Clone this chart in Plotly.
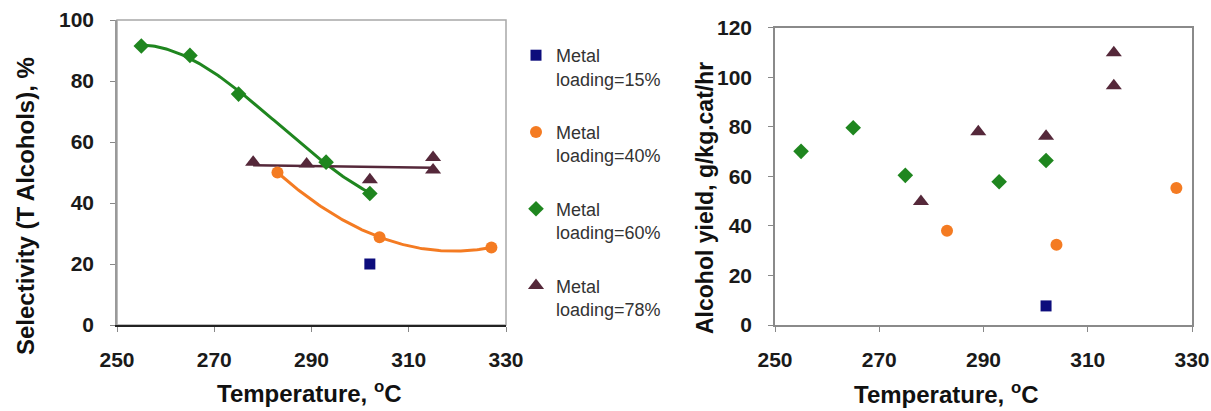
import numpy as np
import plotly.graph_objects as go

# ---- data ----
temp_15 = [302]
sel_15 = [20]
yield_15 = [7.7]

temp_40 = [283, 304, 327]
sel_40 = [50.0, 28.8, 25.4]
yield_40 = [38.0, 32.4, 55.3]

temp_60 = [255, 265, 275, 293, 302]
sel_60 = [91.5, 88.4, 75.7, 53.4, 43.1]
yield_60 = [70.1, 79.6, 60.4, 57.8, 66.4]

temp_78 = [278, 289, 302, 315, 315]
sel_78 = [53.4, 52.8, 47.6, 54.9, 50.8]
yield_78 = [49.8, 78.0, 76.2, 109.9, 96.6]

labels = ["Metal<br>loading=15%", "Metal<br>loading=40%",
          "Metal<br>loading=60%", "Metal<br>loading=78%"]

FONT = "Liberation Sans, Arial, sans-serif"
C_BLUE = "#0c0c7c"
C_ORANGE = "#f47b22"
C_GREEN = "#1f861f"
C_PURPLE = "#55283a"

W, H = 1211, 411


def px_x(p):
    return p / W


def px_y(p):
    return 1 - p / H


fig = go.Figure()

# ---- trendlines (Excel style polynomial fits of the selectivity data) ----
def trend(xs, ys, deg):
    c = np.polyfit(xs, ys, deg)
    xx = np.linspace(min(xs), max(xs), 120)
    return xx, np.polyval(c, xx)

for xs, ys, deg, col, w in [(temp_60, sel_60, 3, C_GREEN, 3),
                            (temp_40, sel_40, 2, C_ORANGE, 3),
                            (temp_78, sel_78, 1, C_PURPLE, 2.5)]:
    xx, yy = trend(xs, ys, deg)
    fig.add_trace(go.Scatter(x=xx, y=yy, mode="lines", line=dict(color=col, width=w),
                             showlegend=False, hoverinfo="skip", xaxis="x", yaxis="y"))

series = [
    (temp_15, sel_15, yield_15, "square", C_BLUE, 11),
    (temp_40, sel_40, yield_40, "circle", C_ORANGE, 12),
    (temp_60, sel_60, yield_60, "diamond", C_GREEN, 12),
    (temp_78, sel_78, yield_78, "triangle-up", C_PURPLE, 14),
]

for i, (t, s, yv, sym, col, sz) in enumerate(series):
    fig.add_trace(go.Scatter(x=t, y=s, mode="markers", name=labels[i],
                             legendgroup=f"g{i}",
                             marker=dict(symbol=sym, color=col, size=sz),
                             xaxis="x", yaxis="y"))
    fig.add_trace(go.Scatter(x=t, y=yv, mode="markers", name=labels[i],
                             legendgroup=f"g{i}", showlegend=False,
                             marker=dict(symbol=sym, color=col, size=sz),
                             xaxis="x2", yaxis="y2"))

tickfont = dict(family=FONT, size=21, color="#1a1a1a", weight="bold")
axis_common = dict(ticks="outside", ticklen=5, tickcolor="#888888", showgrid=False,
                   zeroline=False, tickfont=tickfont, showline=True, automargin=False)

fig.update_layout(
    template="none",
    width=W, height=H,
    margin=dict(l=0, r=0, t=0, b=0, pad=0),
    paper_bgcolor="white", plot_bgcolor="white",
    font=dict(family=FONT),
    xaxis=dict(domain=[px_x(117), px_x(506)], range=[250, 330], dtick=20, tick0=250,
               anchor="y", linecolor="#222222", linewidth=1.5, ticklabelstandoff=10,
               **axis_common),
    yaxis=dict(domain=[px_y(325), px_y(20)], range=[0, 100], dtick=20,
               anchor="x", linecolor="#9a9a9a", linewidth=1.5, ticklabelstandoff=12,
               **axis_common),
    xaxis2=dict(domain=[px_x(775), px_x(1192)], range=[250, 330], dtick=20, tick0=250,
                anchor="y2", linecolor="#8a8a8a", linewidth=1.5, mirror=True,
                ticklabelstandoff=10, **axis_common),
    yaxis2=dict(domain=[px_y(325), px_y(27.7)], range=[0, 120], dtick=20,
                anchor="x2", linecolor="#8a8a8a", linewidth=1.5, mirror=True,
                ticklabelstandoff=12, **axis_common),
    legend=dict(x=px_x(516), y=px_y(37), xanchor="left", yanchor="top",
                font=dict(family=FONT, size=18, color="#333333"),
                tracegroupgap=27, valign="top", bgcolor="rgba(0,0,0,0)",
                itemwidth=30),
    showlegend=True,
)

# gray plot-area border of the left chart (top and right edges)
fig.add_shape(type="rect", xref="x domain", yref="y domain", x0=0, x1=1, y0=0, y1=1,
              line=dict(color="#a8a8a8", width=1.5), layer="below")

title_font = dict(family=FONT, size=24, color="#111111")
fig.add_annotation(text="<b>Selectivity (T Alcohols), %</b>", x=px_x(25), y=px_y(206),
                   xref="paper", yref="paper", showarrow=False, textangle=-90,
                   font=title_font, xanchor="center", yanchor="middle")
fig.add_annotation(text="<b>Alcohol yield, g/kg.cat/hr</b>", x=px_x(705), y=px_y(198),
                   xref="paper", yref="paper", showarrow=False, textangle=-90,
                   font=dict(family=FONT, size=23, color="#111111"),
                   xanchor="center", yanchor="middle")
fig.add_annotation(text="<b>Temperature, <sup>o</sup>C</b>", x=px_x(310), y=px_y(392),
                   xref="paper", yref="paper", showarrow=False,
                   font=title_font, xanchor="center", yanchor="middle")
fig.add_annotation(text="<b>Temperature, <sup>o</sup>C</b>", x=px_x(946), y=px_y(393),
                   xref="paper", yref="paper", showarrow=False,
                   font=title_font, xanchor="center", yanchor="middle")

fig.write_html("out.html")
